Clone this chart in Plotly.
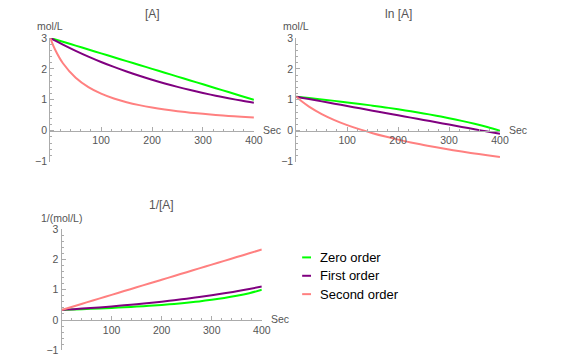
import plotly.graph_objects as go

# ---- data ----
time_s = [0, 10, 25, 50, 75, 100, 125, 150, 175, 200, 225, 250, 275, 300, 325, 350, 375, 400]

conc_zero = [3.0, 2.95, 2.875, 2.75, 2.625, 2.5, 2.375, 2.25, 2.125, 2.0, 1.875, 1.75, 1.625, 1.5, 1.375, 1.25, 1.125, 1.0]
conc_first = [3.0, 2.911, 2.783, 2.582, 2.396, 2.222, 2.062, 1.913, 1.775, 1.646, 1.528, 1.417, 1.315, 1.22, 1.132, 1.05, 0.974, 0.904]
conc_second = [3.0, 2.609, 2.182, 1.714, 1.412, 1.2, 1.043, 0.923, 0.828, 0.75, 0.686, 0.632, 0.585, 0.545, 0.511, 0.48, 0.453, 0.429]

ln_zero = [1.099, 1.082, 1.056, 1.012, 0.965, 0.916, 0.865, 0.811, 0.754, 0.693, 0.629, 0.56, 0.486, 0.406, 0.319, 0.223, 0.118, 0.0]
ln_first = [1.099, 1.069, 1.024, 0.949, 0.874, 0.799, 0.724, 0.649, 0.574, 0.499, 0.424, 0.349, 0.274, 0.199, 0.124, 0.049, -0.026, -0.101]
ln_second = [1.099, 0.959, 0.78, 0.539, 0.345, 0.182, 0.043, -0.08, -0.189, -0.288, -0.377, -0.46, -0.536, -0.606, -0.672, -0.734, -0.792, -0.847]

inv_zero = [0.333, 0.339, 0.348, 0.364, 0.381, 0.4, 0.421, 0.444, 0.471, 0.5, 0.533, 0.571, 0.615, 0.667, 0.727, 0.8, 0.889, 1.0]
inv_first = [0.333, 0.344, 0.359, 0.387, 0.417, 0.45, 0.485, 0.523, 0.563, 0.607, 0.655, 0.706, 0.76, 0.82, 0.883, 0.952, 1.027, 1.107]
inv_second = [0.333, 0.383, 0.458, 0.583, 0.708, 0.833, 0.958, 1.083, 1.208, 1.333, 1.458, 1.583, 1.708, 1.833, 1.958, 2.083, 2.208, 2.333]

series_names = ["Zero order", "First order", "Second order"]
series_colors = ["#00ff00", "#800080", "#ff8080"]

panel_titles = ["[A]", "ln [A]", "1/[A]"]
panel_ylabels = ["mol/L", "mol/L", "1/(mol/L)"]
x_label = "Sec"
x_tickvals = [100, 200, 300, 400]
y_tickvals = [-1, 0, 1, 2, 3]

# ---- layout geometry (pixels) ----
W, H = 570, 363
panels_px = [
    dict(x0=51, x1=258, ytop=33, ybot=161),
    dict(x0=301, x1=508, ytop=33, ybot=161),
    dict(x0=62.5, x1=266, ytop=231, ybot=356),
]
XR = [0, 400]
YR = [-1, 3]

FONT = "Liberation Sans, Arial, sans-serif"
AXC = "#ababab"
TXC = "#555555"

fig = go.Figure()

data_sets = [
    [conc_zero, conc_first, conc_second],
    [ln_zero, ln_first, ln_second],
    [inv_zero, inv_first, inv_second],
]

annotations = []
shapes = []
for i, (p, ys) in enumerate(zip(panels_px, data_sets)):
    xa = "x" if i == 0 else f"x{i+1}"
    ya = "y" if i == 0 else f"y{i+1}"
    for name, col, yv in zip(series_names, series_colors, ys):
        fig.add_trace(go.Scatter(x=time_s, y=yv, mode="lines", name=name,
                                 line=dict(color=col, width=2, shape="spline"),
                                 xaxis=xa, yaxis=ya, showlegend=False))
    xdom = [p["x0"] / W, p["x1"] / W]
    ydom = [1 - p["ybot"] / H, 1 - p["ytop"] / H]
    zero_pos = ydom[0] + (0 - YR[0]) / (YR[1] - YR[0]) * (ydom[1] - ydom[0])
    xkey = "xaxis" if i == 0 else f"xaxis{i+1}"
    ykey = "yaxis" if i == 0 else f"yaxis{i+1}"
    fig.update_layout(**{
        xkey: dict(domain=xdom, range=XR, anchor="free", position=zero_pos,
                   showline=True, linecolor=AXC, linewidth=1,
                   showgrid=False, zeroline=False,
                   tickmode="array", tickvals=x_tickvals,
                   ticks="inside", ticklen=4, tickcolor=AXC, tickwidth=1,
                   minor=dict(tickmode="linear", tick0=0, dtick=20, ticks="inside",
                              ticklen=2, tickcolor=AXC, showgrid=False),
                   tickfont=dict(family=FONT, size=10.5, color=TXC),
                   fixedrange=True),
        ykey: dict(domain=ydom, range=YR, anchor=xa,
                   showline=True, linecolor=AXC, linewidth=1,
                   showgrid=False, zeroline=False,
                   tickmode="array", tickvals=y_tickvals,
                   ticks="inside", ticklen=4, tickcolor=AXC, tickwidth=1,
                   minor=dict(tickmode="linear", tick0=0, dtick=0.2, ticks="inside",
                              ticklen=2, tickcolor=AXC, showgrid=False),
                   tickfont=dict(family=FONT, size=10.5, color=TXC),
                   fixedrange=True),
    })
    # title
    annotations.append(dict(text=panel_titles[i], xref="paper", yref="paper",
                            x=(xdom[0] + xdom[1]) / 2, y=1 - (p["ytop"] - 25) / H,
                            xanchor="center", yanchor="middle", showarrow=False,
                            font=dict(family=FONT, size=12, color=TXC)))
    # y label
    annotations.append(dict(text=panel_ylabels[i], xref="paper", yref="paper",
                            x=xdom[0], y=1 - (p["ytop"] - 12) / H,
                            xanchor="center", yanchor="middle", showarrow=False,
                            font=dict(family=FONT, size=10.5, color=TXC)))
    # x label
    annotations.append(dict(text=x_label, xref="paper", yref="paper",
                            x=xdom[1] + 7 / W, y=zero_pos + 1 / H,
                            xanchor="left", yanchor="middle", showarrow=False,
                            font=dict(family=FONT, size=10.5, color=TXC)))

# legend (custom, matches the short swatches of the reference)
leg_x0, leg_x1, leg_tx = 307, 316, 323
leg_rows = [260, 279, 298]
for name, col, yy in zip(series_names, series_colors, leg_rows):
    shapes.append(dict(type="line", xref="paper", yref="paper",
                       x0=leg_x0 / W, x1=leg_x1 / W, y0=1 - yy / H, y1=1 - yy / H,
                       line=dict(color=col, width=2)))
    annotations.append(dict(text=name, xref="paper", yref="paper",
                            x=leg_tx / W, y=1 - yy / H, xanchor="left", yanchor="middle",
                            showarrow=False, font=dict(family=FONT, size=13, color="#000000")))

fig.update_layout(width=W, height=H, margin=dict(l=0, r=0, t=0, b=0),
                  paper_bgcolor="white", plot_bgcolor="white",
                  showlegend=False, annotations=annotations, shapes=shapes)

post = ("document.documentElement.style.margin='0';"
        "document.documentElement.style.overflow='hidden';"
        "document.body.style.margin='0';document.body.style.padding='0';"
        "document.body.style.overflow='hidden';")
fig.write_html("out.html", config={"responsive": False, "displayModeBar": False},
               post_script=post)
